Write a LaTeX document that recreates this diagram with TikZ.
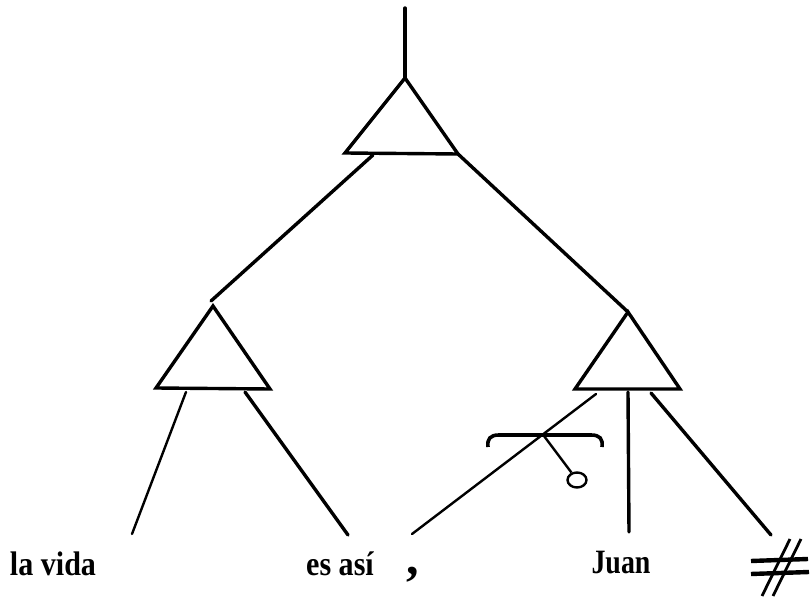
\documentclass[tikz,border=0pt]{standalone}
\usepackage{fontspec}
\usetikzlibrary{shapes.geometric}
\setmainfont{Liberation Serif}
\begin{document}
\begin{tikzpicture}[x=1pt,y=-1pt,
  thickline/.style={line width=3.4pt,line cap=round,line join=miter},
  thinline/.style={line width=2.4pt,line cap=round},
  word/.style={anchor=base,inner sep=0pt,font=\fontsize{31}{31}\selectfont\bfseries}]
\useasboundingbox (0,0) rectangle (811,601);
% top
\coordinate (root) at (405,8);
\coordinate (Ta) at (405,78);
\coordinate (Tl) at (345,153);
\coordinate (Tr) at (458,154);
\coordinate (TlOut) at (373,155);
% left triangle
\coordinate (La) at (213,306);
\coordinate (Ll) at (156,388);
\coordinate (Lr) at (270,389);
\coordinate (LlOut) at (186,392);
\coordinate (LrOut) at (245,392);
\coordinate (Lstop) at (211,301);
% right triangle
\coordinate (Ra) at (628,312);
\coordinate (Rl) at (575,389);
\coordinate (Rr) at (680,389);
\coordinate (RcOut) at (596,394);
\coordinate (RmOut) at (628,392);
\coordinate (RrOut) at (651,393);
% leaves
\coordinate (e1) at (132,534);
\coordinate (e2) at (348,535);
\coordinate (e3) at (412,534);
\coordinate (e4) at (629,532);
\coordinate (e5) at (771,535);

\node[word] (lavida) at (53,575) {\scalebox{0.97}[1.1]{la vida}};
\node[word] (esasi) at (340,575) {\scalebox{0.97}[1.1]{es así}};
\node[word,font=\fontsize{50}{50}\selectfont\bfseries] (comma) at (413,574) {,};
\node[word] (juan) at (621,573) {\scalebox{0.9}[1.1]{Juan}};

% triangles
\draw[thickline] (Tl) -- (Ta) -- (Tr) -- cycle;
\draw[thickline] (Ll) -- (La) -- (Lr) -- cycle;
\draw[thickline] (Rl) -- (Ra) -- (Rr) -- cycle;
% connectors
\draw[thickline] (root) -- (Ta);
\draw[thickline] (TlOut) -- (Lstop);
\draw[thickline] (Tr) -- (Ra);
\draw[thinline] (LlOut) -- (e1);
\draw[thickline] (LrOut) -- (e2);
\draw[thinline] (RcOut) -- (e3);
\draw[thickline] (RmOut) -- (e4);
\draw[thickline] (RrOut) -- (e5);
% bracket with circle
\coordinate (bL) at (488,447);
\coordinate (bR) at (602,447);
\coordinate (bM) at (544,436);
\node[draw,line width=2.4pt,ellipse,minimum width=19pt,minimum height=15pt,inner sep=0pt] (ring) at (577,480) {};
\draw[line width=3.6pt] (bL) .. controls (487,439) and (490,435) .. (499,435) -- (591,435) .. controls (600,435) and (603,439) .. (bR);
\draw[line width=2.4pt] (bM) -- (ring);
% boundary sign
\coordinate (h1a) at (790,539);
\coordinate (h1b) at (762,596);
\coordinate (h2a) at (801,539);
\coordinate (h2b) at (773,596);
\coordinate (h3a) at (751,561);
\coordinate (h3b) at (808,559);
\coordinate (h4a) at (751,574);
\coordinate (h4b) at (809,572);
\draw[line width=2.8pt] (h1a) -- (h1b);
\draw[line width=2.8pt] (h2a) -- (h2b);
\draw[line width=4.4pt] (h3a) -- (h3b);
\draw[line width=4.4pt] (h4a) -- (h4b);
\end{tikzpicture}
\end{document}
